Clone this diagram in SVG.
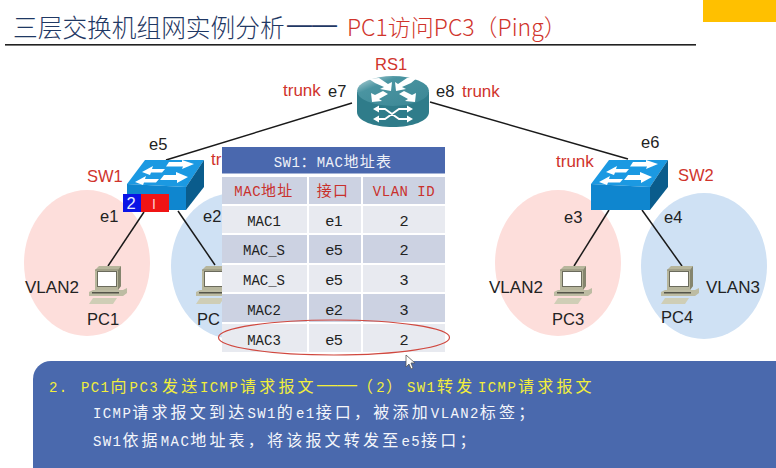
<svg xmlns="http://www.w3.org/2000/svg" xmlns:xlink="http://www.w3.org/1999/xlink" width="776" height="468" viewBox="0 0 776 468">
<style>
text{font-family:"Liberation Sans","Noto Sans CJK SC",sans-serif;font-size:16.5px;fill:#222}
.r{fill:#d0342c}
.w{font-size:17px}
.title{font-family:"Noto Sans CJK SC",sans-serif;font-weight:300}
.m{font-family:"Noto Sans CJK SC",sans-serif;font-size:16px;letter-spacing:3.200px}
.n{font-family:"Liberation Mono",monospace;font-size:14px;letter-spacing:1.400px}
.dash{font-family:"Liberation Sans",sans-serif;font-size:20px;letter-spacing:0}
.t{font-family:"Noto Sans CJK SC",sans-serif;font-size:15px;letter-spacing:1.300px}
.t .n{letter-spacing:.5px}
.c{text-anchor:middle}
.d{font-family:"Liberation Mono",monospace;font-size:14px}
.e{font-size:15.500px}
.conn line{stroke:#1a1a1a;stroke-width:1.5}
.pk{fill:#fddedb}.bl{fill:#cfe1f4}
.arrow{fill:#fff}
</style>
<defs>
<linearGradient id="rt" x1="0" y1="0" x2="1" y2="1"><stop offset="0" stop-color="#c4dde0"/><stop offset=".3" stop-color="#4a94a1"/><stop offset="1" stop-color="#3a8694"/></linearGradient>
<g id="pc">
<path d="M95 270 l4-4 h22 v20 l-3 4 h-23z" fill="#b7b69c"/>
<path d="M118 270 l3-4 v20 l-3 4z" fill="#85856e"/>
<path d="M95 270 h23" stroke="#7d7d68" stroke-width=".7"/>
<rect x="97.500" y="271.500" width="19" height="15" fill="#fff" stroke="#6b6b5c" stroke-width="1"/>
<path d="M93 290 h30 l4 -2 v5 l-4 3 h-34 v-4z" fill="#bdbca3"/>
<rect x="92" y="292" width="27" height="1.500" fill="#55554a"/>
<path d="M93 298 h24 l-4 6 h-24z" fill="#cfceb6"/>
</g>
<g id="sw">
<path d="M-1 24 L17 0 H76 L58 27 Z" fill="#1b99e2"/>
<path d="M-1 24 L58 27 V50 H-1 Z" fill="#0f86cf"/>
<path d="M58 27 L76 0 V27 L58 50 Z" fill="#0a5c8c"/>
<path class="arrow" d="M14 12 L25 6 L24 9 H37 L34 12.500 H23 L22 15 Z"/>
<path class="arrow" d="M41 2 H54 L54 0 L66 4 L54 9 L55 6.500 H38 Z"/>
<path class="arrow" d="M7 22 L18 16 L17 19 H31 L28 22.500 H16 L15 25 Z"/>
<path class="arrow" d="M36 15 H48 L48 12 L60 17 L49 23 L49 20 H32 Z"/>
</g>
</defs>
<rect width="776" height="468" fill="#fff"/>
<rect x="703" y="0" width="73" height="22" fill="#ffc000"/>
<text class="title" x="13" y="37" style="font-size:24.700px;fill:#1f3864">三层交换机组网实例分析</text>
<text x="287" y="33" style="font-family:'Liberation Sans';font-size:25px;fill:#1f3864">——</text>
<text class="title" x="347" y="36" style="font-size:23px;fill:#d0342c">PC1访问PC3（Ping）</text>
<rect x="5" y="44" width="691" height="1.600" fill="#222"/>

<g id="vlan-areas">
<ellipse class="pk" cx="87" cy="263" rx="63" ry="73"/>
<ellipse class="bl" cx="234" cy="266" rx="63" ry="73"/>
<ellipse class="pk" cx="558" cy="263" rx="63" ry="73"/>
<ellipse class="bl" cx="704" cy="266" rx="63" ry="73"/>
</g>

<g class="conn" id="connectors">
<line x1="352" y1="103" x2="166" y2="160"/>
<line x1="430" y1="102" x2="628" y2="159"/>
<line x1="144" y1="212" x2="108" y2="266"/>
<line x1="178" y1="211" x2="215" y2="265"/>
<line x1="609" y1="210" x2="574" y2="266"/>
<line x1="642" y1="210" x2="682" y2="266"/>
</g>

<g id="RS1">
<path d="M357 92 V112 C357 121 374 127 393 127 C412 127 429 121 429 112 V92 Z" fill="#2f7c8a"/>
<ellipse cx="393" cy="91" rx="36" ry="15" fill="url(#rt)"/>
<path class="arrow" d="M369 79 L379 78 L388 84 L392 82 L391 91 L380 89 L384 87 L375 83 Z"/>
<path class="arrow" d="M417 78 L407 78 L398 84 L395 82 L396 91 L406 89 L402 87 L411 83 Z"/>
<path class="arrow" d="M372 102 L371 93 L375 95 L383 91 L388 94 L379 99 L382 101 Z"/>
<path class="arrow" d="M415 102 L416 93 L412 95 L404 91 L399 94 L408 99 L405 101 Z"/>
<path d="M378 109 H385 L399 119 H408 M378 119 H385 L399 109 H408" fill="none" stroke="#fff" stroke-width="1.800"/>
<path class="arrow" d="M379 105.500 V112.500 L373 109Z M379 115.500 V122.500 L373 119Z M407 105.500 V112.500 L413 109Z M407 115.500 V122.500 L413 119Z"/>
<text class="r" x="375" y="70">RS1</text>
</g>

<g id="SW1">
<use xlink:href="#sw" href="#sw" x="128" y="160"/>
<rect x="123" y="194" width="18" height="18" fill="#0a14e6"/>
<rect x="141" y="194" width="28" height="18" fill="#f01414"/>
<text x="126.500" y="209" style="fill:#e8ecff">2</text>
<text x="152" y="209" style="fill:#ffd0d0;font-size:14px">I</text>
<text class="r" x="87" y="182">SW1</text>
</g>
<g id="SW2">
<use xlink:href="#sw" href="#sw" x="592" y="160"/>
<text class="r" x="678" y="181">SW2</text>
</g>
<g id="PC1"><use xlink:href="#pc" href="#pc"/><text x="87" y="325">PC1</text></g>
<g id="PC2"><use xlink:href="#pc" href="#pc" x="107"/><text x="197" y="325">PC</text></g>
<g id="PC3"><use xlink:href="#pc" href="#pc" x="465"/><text x="552" y="325">PC3</text></g>
<g id="PC4"><use xlink:href="#pc" href="#pc" x="572"/><text x="661" y="323">PC4</text></g>

<g id="labels">
<text class="r w" x="283" y="96">trunk</text>
<text x="328" y="97">e7</text>
<text x="436" y="97">e8</text>
<text class="r w" x="462" y="97">trunk</text>
<text x="149" y="150">e5</text>
<text class="r w" x="211" y="165">tr</text>
<text x="100" y="222">e1</text>
<text x="203" y="222">e2</text>
<text class="w" x="25" y="293">VLAN2</text>
<text x="641" y="148">e6</text>
<text class="r w" x="556" y="167">trunk</text>
<text x="564" y="223">e3</text>
<text x="664" y="223">e4</text>
<text class="w" x="489" y="293">VLAN2</text>
<text class="w" x="706" y="293">VLAN3</text>
</g>

<g id="mac-table">
<rect x="222" y="147" width="223" height="26.500" fill="#4a68ae"/>
<rect x="222" y="177" width="223" height="175" fill="#fff"/>
<g fill="#ccd2e2">
<rect x="222" y="177" width="85" height="27"/><rect x="309" y="177" width="52" height="27"/><rect x="363" y="177" width="82" height="27"/>
<rect x="222" y="235" width="85" height="28"/><rect x="309" y="235" width="52" height="28"/><rect x="363" y="235" width="82" height="28"/>
<rect x="222" y="294" width="85" height="28"/><rect x="309" y="294" width="52" height="28"/><rect x="363" y="294" width="82" height="28"/>
</g>
<g fill="#e8eaf0">
<rect x="222" y="206" width="85" height="27"/><rect x="309" y="206" width="52" height="27"/><rect x="363" y="206" width="82" height="27"/>
<rect x="222" y="265" width="85" height="27"/><rect x="309" y="265" width="52" height="27"/><rect x="363" y="265" width="82" height="27"/>
<rect x="222" y="324" width="85" height="28"/><rect x="309" y="324" width="52" height="28"/><rect x="363" y="324" width="82" height="28"/>
</g>
<text class="t c" x="333" y="167" style="fill:#eef1f8"><tspan class="n">SW1</tspan>：<tspan class="n">MAC</tspan>地址表</text>
<text class="t c" x="264" y="196" style="fill:#c9302c"><tspan class="n" style="fill:#c9302c">MAC</tspan>地址</text>
<text class="t c" x="333" y="196" style="fill:#c9302c">接口</text>
<text class="t c" x="404" y="196" style="fill:#c9302c"><tspan class="n" style="fill:#c9302c">VLAN ID</tspan></text>
<text class="d c" x="264" y="226">MAC1</text><text class="e c" x="334" y="226">e1</text><text class="e c" x="404" y="226">2</text>
<text class="d c" x="264" y="255">MAC_S</text><text class="e c" x="334" y="255">e5</text><text class="e c" x="404" y="255">2</text>
<text class="d c" x="264" y="285">MAC_S</text><text class="e c" x="334" y="285">e5</text><text class="e c" x="404" y="285">3</text>
<text class="d c" x="264" y="315">MAC2</text><text class="e c" x="334" y="315">e2</text><text class="e c" x="404" y="315">3</text>
<text class="d c" x="264" y="345">MAC3</text><text class="e c" x="334" y="345">e5</text><text class="e c" x="404" y="345">2</text>
<ellipse cx="334" cy="337.500" rx="115.500" ry="17.500" fill="none" stroke="#d0483f" stroke-width="1.200"/>
</g>

<g id="note">
<rect x="33" y="361" width="800" height="140" rx="18" fill="#4a69ad"/>
<text class="m" x="49" y="392" style="fill:#f2ee3c"><tspan class="n" style="fill:#f2ee3c">2.</tspan><tspan class="n" x="81" style="fill:#f2ee3c">PC1</tspan>向<tspan class="n" style="fill:#f2ee3c">PC3</tspan><tspan x="162">发送</tspan><tspan class="n" style="fill:#f2ee3c" x="200">ICMP</tspan><tspan x="240">请求报文</tspan><tspan class="dash" x="317" dy="-1">——</tspan><tspan x="357" dy="1">（</tspan><tspan class="n" style="fill:#f2ee3c">2</tspan>）<tspan class="n" x="407" style="fill:#f2ee3c">SW1</tspan><tspan x="437">转发</tspan><tspan class="n" x="478" style="fill:#f2ee3c">ICMP</tspan><tspan x="518">请求报文</tspan></text>
<text class="m" x="93" y="418" style="fill:#f4f6fb"><tspan class="n" style="fill:#f4f6fb">ICMP</tspan>请求报文到达<tspan class="n" style="fill:#f4f6fb">SW1</tspan>的<tspan class="n" style="fill:#f4f6fb">e1</tspan>接口，被添加<tspan class="n" style="fill:#f4f6fb">VLAN2</tspan>标签；</text>
<text class="m" x="93" y="446" style="fill:#f4f6fb"><tspan class="n" style="fill:#f4f6fb">SW1</tspan>依据<tspan class="n" style="fill:#f4f6fb">MAC</tspan>地址表，将该报文转发至<tspan class="n" style="fill:#f4f6fb">e5</tspan>接口；</text>
</g>
<path d="M406 355 V367 L409 364 L411 369 L413 368 L411 363 L415 363 Z" fill="#fff" stroke="#555" stroke-width=".8"/>
</svg>
